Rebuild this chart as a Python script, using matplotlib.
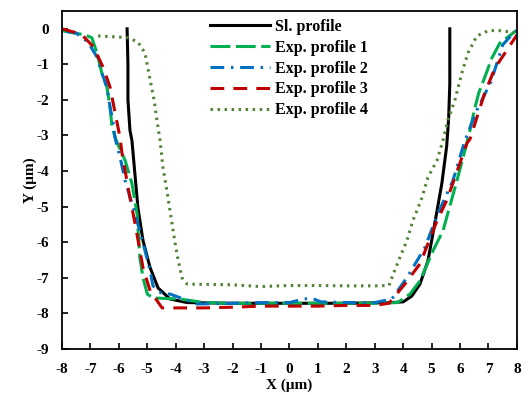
import matplotlib
matplotlib.use('Agg')
import matplotlib.pyplot as plt

# %%
# Profiles (X and Y in um)

sl_x = [-5.71, -5.68, -5.68, -5.61, -5.54, -5.5, -5.33, -5.15, -4.9, -4.62,
        -4.2, -3.6, -2.0, 0.0, 2.0, 3.6, 4.0, 4.3, 4.59, 4.87, 5.11, 5.36,
        5.53, 5.6, 5.64, 5.64]
sl_y = [0.0, -1.0, -2.0, -2.85, -3.14, -3.5, -5.03, -5.96, -6.72, -7.29,
        -7.6, -7.7, -7.72, -7.72, -7.72, -7.7, -7.68, -7.52, -7.18, -6.53, -5.48, -4.35,
        -3.3, -2.5, -1.53, 0.0]

exp1_x = [-8.0, -7.82, -7.19, -6.95, -6.77, -6.6, -6.42, -6.31, -6.24, -6.07,
          -5.78, -5.54, -5.36, -5.26, -5.15, -5.0, -4.8, -3.85, -3.0, -2.0, -1.0,
          0.0, 1.0, 2.0, 3.0, 3.8, 4.24, 4.59, 5.05, 5.4, 5.89, 6.2, 6.35, 6.52,
          6.66, 6.87, 7.12, 7.4, 7.93, 8.0]
exp1_y = [-0.05, -0.08, -0.17, -0.25, -0.68, -1.24, -1.64, -2.2, -2.77, -3.19,
          -3.7, -4.35, -5.2, -6.44, -7.0, -7.46, -7.57, -7.6, -7.7, -7.72, -7.72,
          -7.72, -7.72, -7.72, -7.72, -7.7, -7.46, -7.09, -6.24, -5.68, -4.27, -3.33, -2.85, -2.23,
          -1.8, -1.36, -0.82, -0.4, -0.08, -0.05]

exp2_x = [-7.85, -7.5, -7.09, -6.77, -6.6, -6.42, -6.31, -6.2, -6.14, -5.96,
          -5.78, -5.43, -5.08, -4.9, -4.8, -4.48, -4.2, -3.25, -2.0, -1.0, 0.0,
          0.5, 0.8, 1.1, 2.0, 3.0, 3.6, 4.13, 4.76, 5.22, 5.75, 6.1, 6.27, 6.59,
          7.08, 7.3, 7.5, 7.9, 8.0]
exp2_y = [-0.07, -0.12, -0.37, -0.79, -1.24, -1.64, -2.2, -2.65, -3.05, -3.6,
          -4.27, -5.2, -6.24, -6.8, -7.23, -7.46, -7.46, -7.74, -7.72, -7.7, -7.7,
          -7.6, -7.58, -7.68, -7.7, -7.7, -7.6, -7.0, -6.16, -5.2, -4.27, -3.33, -2.94, -2.29,
          -1.5, -0.96, -0.45, -0.1, -0.05]

exp3_x = [-8.0, -7.54, -7.26, -6.9, -6.56, -6.31, -6.13, -5.96, -5.89, -5.61,
          -5.43, -5.15, -4.9, -4.48, -4.0, -3.0, -2.0, -1.0, 0.0, 1.0, 2.0,
          3.0, 3.5, 4.06, 4.59, 5.19, 5.53, 5.82, 6.24, 6.35, 6.59, 6.87, 7.23,
          7.58, 8.0]
exp3_y = [0.0, -0.1, -0.2, -0.5, -1.07, -1.64, -2.37, -3.05, -3.5, -4.75,
          -5.48, -6.72, -7.37, -7.85, -7.85, -7.85, -7.83, -7.8, -7.8, -7.8, -7.78,
          -7.78, -7.72, -7.18, -6.61, -5.4, -4.83, -4.18, -3.22, -3.1, -2.5, -1.8, -1.1,
          -0.68, -0.17]

exp4_x = [-6.73, -6.03, -5.68, -5.33, -5.08, -4.9, -4.76, -4.66, -4.55, -4.45,
          -4.31, -4.13, -3.96, -3.78, -3.6, -2.0, -1.0, 0.0, 1.0, 2.0, 3.0,
          3.5, 3.7, 3.9, 4.13, 4.34, 4.66, 4.87, 5.19, 5.4, 5.57, 5.82, 6.06,
          6.28, 6.59, 7.0, 7.4, 7.9]
exp4_y = [-0.2, -0.23, -0.25, -0.37, -0.68, -1.44, -2.0, -2.57, -3.14, -3.9,
          -4.55, -5.48, -6.33, -7.0, -7.18, -7.2, -7.25, -7.22, -7.22, -7.23, -7.23,
          -7.22, -6.8, -6.4, -5.96, -5.4, -4.75, -4.18, -3.7, -3.14, -2.57, -2.0, -1.25,
          -0.68, -0.2, -0.05, -0.05, -0.1]

plt.rcParams['font.family'] = ['Liberation Serif', 'DejaVu Serif']
plt.rcParams['font.weight'] = 'bold'
plt.rcParams['axes.unicode_minus'] = False

fig = plt.figure(figsize=(5.28, 3.95), dpi=100)
ax = fig.add_axes([0.1174, 0.117, 0.8616, 0.855])

ax.plot(sl_x, sl_y, color='black', lw=2.2, label='Sl. profile')
ax.plot(exp1_x, exp1_y, color='#00B050', lw=2.2, dashes=(6.5, 1.8),
        label='Exp. profile 1')
ax.plot(exp2_x, exp2_y, color='#0070C0', lw=2.2, dashes=(4.5, 2.2, 0.8, 2.2),
        label='Exp. profile 2')
ax.plot(exp3_x, exp3_y, color='#C00000', lw=2.2, dashes=(4.5, 3),
        label='Exp. profile 3')
ax.plot(exp4_x, exp4_y, color='#548235', lw=2.2, dashes=(0.8, 1.5),
        label='Exp. profile 4')

ax.set_xlim(-8, 8)
ax.set_ylim(-9, 0.5)
ax.set_xticks(range(-8, 9))
ax.set_yticks(range(-9, 1))
ax.tick_params(direction='in', length=4, width=1.2, labelsize=11, pad=9)
ax.tick_params(axis='x', pad=10)
for s in ax.spines.values():
    s.set_linewidth(1.3)

ax.set_xlabel('X (μm)', fontsize=11, fontweight='bold', labelpad=2)
ax.set_ylabel('Y (μm)', fontsize=11, fontweight='bold', labelpad=0)

ax.legend(loc='upper left', bbox_to_anchor=(0.305, 1.005), frameon=False,
          fontsize=11.5, handlelength=3.75, handletextpad=0.3, labelspacing=0.3,
          borderaxespad=0.2)

fig.savefig('out.png', dpi=100)
